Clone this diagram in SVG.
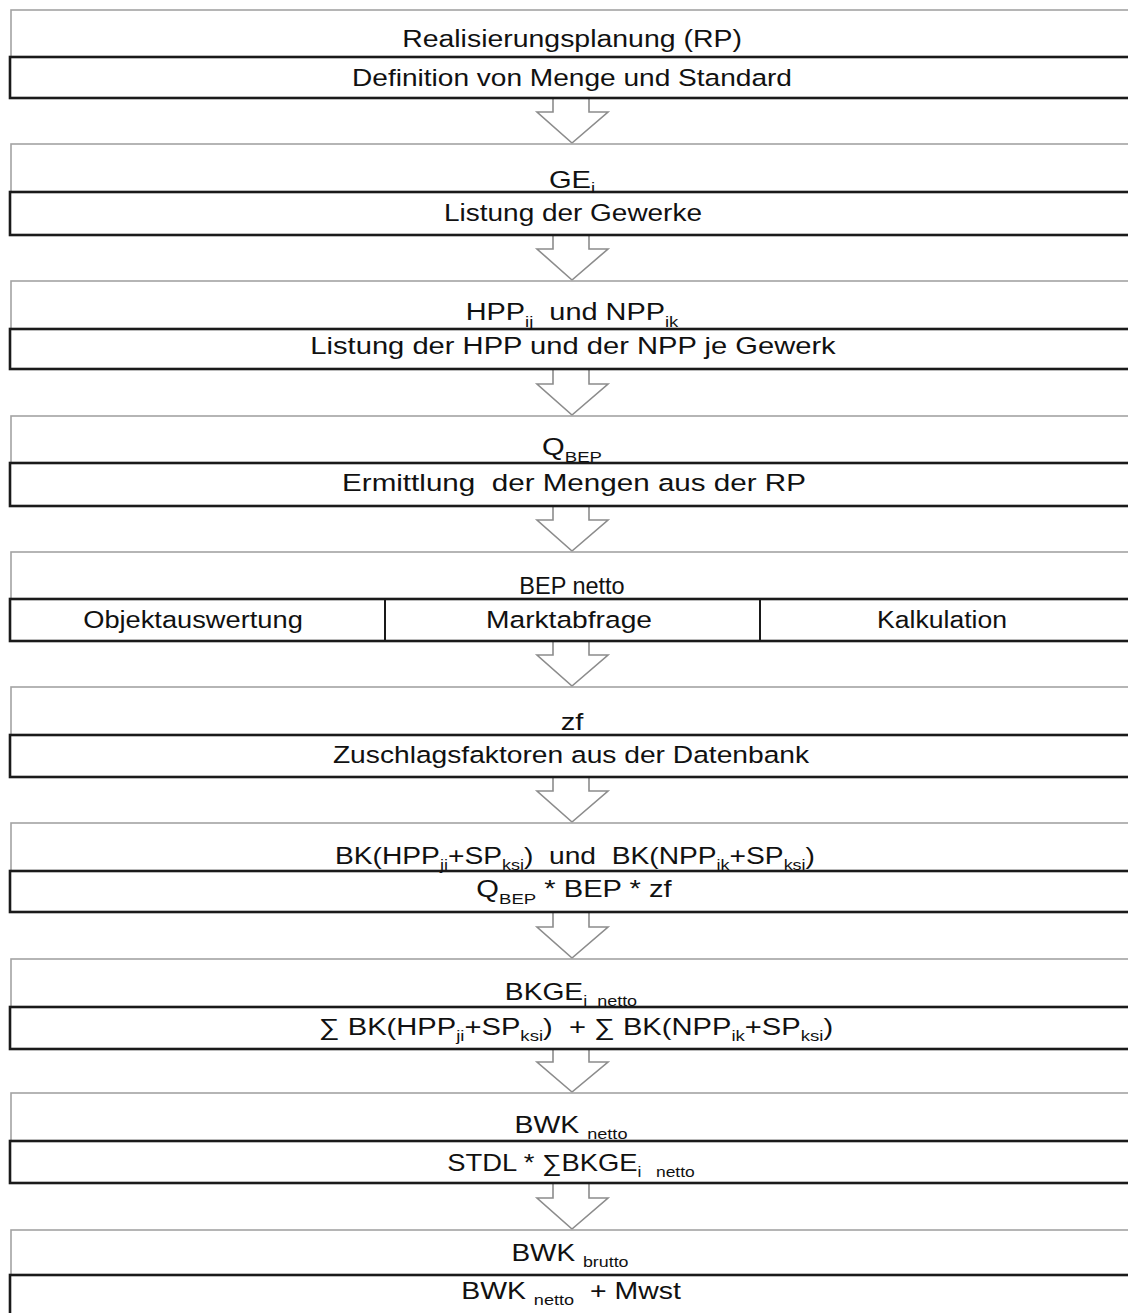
<svg xmlns="http://www.w3.org/2000/svg" width="1128" height="1313" viewBox="0 0 1128 1313">
<style>
.bg{fill:#fff}
.up{fill:#fff;stroke:#a3a3a3;stroke-width:1.6}
.lo{fill:#fff;stroke:#1a1a1a;stroke-width:2.6}
.dv{stroke:#1a1a1a;stroke-width:2}
.ar{fill:#fff;stroke:#8c8c8c;stroke-width:1.6;stroke-linejoin:miter}
.t{font-family:"Liberation Sans",Arial,sans-serif;font-size:23.5px;text-anchor:middle;fill:#111;white-space:pre}
.s{font-size:15px}
</style>
<rect class="bg" x="0" y="0" width="1128" height="1313"/>
<g id="connectors">
<path class="ar" d="M553,98 V112 H537 L572,143 L608,112 H589 V98"/>
<path class="ar" d="M553,235 V249 H537 L572,280 L608,249 H589 V235"/>
<path class="ar" d="M553,369 V384 H537 L572,415 L608,384 H589 V369"/>
<path class="ar" d="M553,506 V520 H537 L572,551 L608,520 H589 V506"/>
<path class="ar" d="M553,641 V655 H537 L572,686 L608,655 H589 V641"/>
<path class="ar" d="M553,777 V791 H537 L572,822 L608,791 H589 V777"/>
<path class="ar" d="M553,912 V927 H537 L572,958 L608,927 H589 V912"/>
<path class="ar" d="M553,1049 V1062 H537 L572,1092 L608,1062 H589 V1049"/>
<path class="ar" d="M553,1183 V1198 H537 L572,1229 L608,1198 H589 V1183"/>
</g>
<g id="n1">
<rect class="up" x="11" y="10" width="1130" height="47"/>
<rect class="lo" x="10" y="57" width="1130" height="41"/>
<text class="t" transform="translate(572,47) scale(1.21,1)">Realisierungsplanung (RP)</text>
<text class="t" transform="translate(572,86) scale(1.195,1)">Definition von Menge und Standard</text>
</g>
<g id="n2">
<rect class="up" x="11" y="144" width="1130" height="48"/>
<rect class="lo" x="10" y="192" width="1130" height="43"/>
<text class="t" transform="translate(572,188) scale(1.24,1)">GE<tspan class="s" dy="5">i</tspan></text>
<text class="t" transform="translate(573,221) scale(1.19,1)">Listung der Gewerke</text>
</g>
<g id="n3">
<rect class="up" x="11" y="281" width="1130" height="48"/>
<rect class="lo" x="10" y="329" width="1130" height="40"/>
<text class="t" transform="translate(572,320) scale(1.23,1)">HPP<tspan class="s" dy="7">ij</tspan><tspan dy="-7">  und NPP</tspan><tspan class="s" dy="7">ik</tspan></text>
<text class="t" transform="translate(573,354) scale(1.24,1)">Listung der HPP und der NPP je Gewerk</text>
</g>
<g id="n4">
<rect class="up" x="11" y="416" width="1130" height="47"/>
<rect class="lo" x="10" y="463" width="1130" height="43"/>
<text class="t" transform="translate(572,455) scale(1.24,1)">Q<tspan class="s" dy="7">BEP</tspan></text>
<text class="t" transform="translate(574,491) scale(1.26,1)">Ermittlung  der Mengen aus der RP</text>
</g>
<g id="n5">
<rect class="up" x="11" y="552" width="1130" height="47"/>
<rect class="lo" x="10" y="599" width="1130" height="42"/>
<line class="dv" x1="385" y1="599" x2="385" y2="641"/>
<line class="dv" x1="760" y1="599" x2="760" y2="641"/>
<text class="t" transform="translate(572,594) scale(1.0,1)">BEP netto</text>
<text class="t" transform="translate(193,628) scale(1.16,1)">Objektauswertung</text>
<text class="t" transform="translate(569,628) scale(1.2,1)">Marktabfrage</text>
<text class="t" transform="translate(942,628) scale(1.13,1)">Kalkulation</text>
</g>
<g id="n6">
<rect class="up" x="11" y="687" width="1130" height="48"/>
<rect class="lo" x="10" y="735" width="1130" height="42"/>
<text class="t" transform="translate(572,730) scale(1.24,1)">zf</text>
<text class="t" transform="translate(571,763) scale(1.2,1)">Zuschlagsfaktoren aus der Datenbank</text>
</g>
<g id="n7">
<rect class="up" x="11" y="823" width="1130" height="48"/>
<rect class="lo" x="10" y="871" width="1130" height="41"/>
<text class="t" transform="translate(575,864) scale(1.2,1)">BK(HPP<tspan class="s" dy="6">ji</tspan><tspan dy="-6">+SP</tspan><tspan class="s" dy="6">ksi</tspan><tspan dy="-6">)  und  BK(NPP</tspan><tspan class="s" dy="6">ik</tspan><tspan dy="-6">+SP</tspan><tspan class="s" dy="6">ksi</tspan><tspan dy="-6">)</tspan></text>
<text class="t" transform="translate(574,897) scale(1.24,1)">Q<tspan class="s" dy="7">BEP</tspan><tspan dy="-7"> * BEP * zf</tspan></text>
</g>
<g id="n8">
<rect class="up" x="11" y="959" width="1130" height="48"/>
<rect class="lo" x="10" y="1007" width="1130" height="42"/>
<text class="t" transform="translate(571,1000) scale(1.2,1)">BKGE<tspan class="s" dy="6">i  netto</tspan></text>
<text class="t" transform="translate(576,1035) scale(1.24,1)">∑ BK(HPP<tspan class="s" dy="6">ji</tspan><tspan dy="-6">+SP</tspan><tspan class="s" dy="6">ksi</tspan><tspan dy="-6">)  + ∑ BK(NPP</tspan><tspan class="s" dy="6">ik</tspan><tspan dy="-6">+SP</tspan><tspan class="s" dy="6">ksi</tspan><tspan dy="-6">)</tspan></text>
</g>
<g id="n9">
<rect class="up" x="11" y="1093" width="1130" height="48"/>
<rect class="lo" x="10" y="1141" width="1130" height="42"/>
<text class="t" transform="translate(571,1133) scale(1.21,1)">BWK <tspan class="s" dy="6">netto</tspan></text>
<text class="t" transform="translate(571,1171) scale(1.165,1)">STDL * ∑BKGE<tspan class="s" dy="6">i   netto</tspan></text>
</g>
<g id="n10">
<rect class="up" x="11" y="1230" width="1130" height="45"/>
<rect class="lo" x="10" y="1275" width="1130" height="45"/>
<text class="t" transform="translate(570,1261) scale(1.19,1)">BWK <tspan class="s" dy="6">brutto</tspan></text>
<text class="t" transform="translate(571,1299) scale(1.21,1)">BWK <tspan class="s" dy="6">netto</tspan><tspan dy="-6">  + Mwst</tspan></text>
</g>
</svg>
